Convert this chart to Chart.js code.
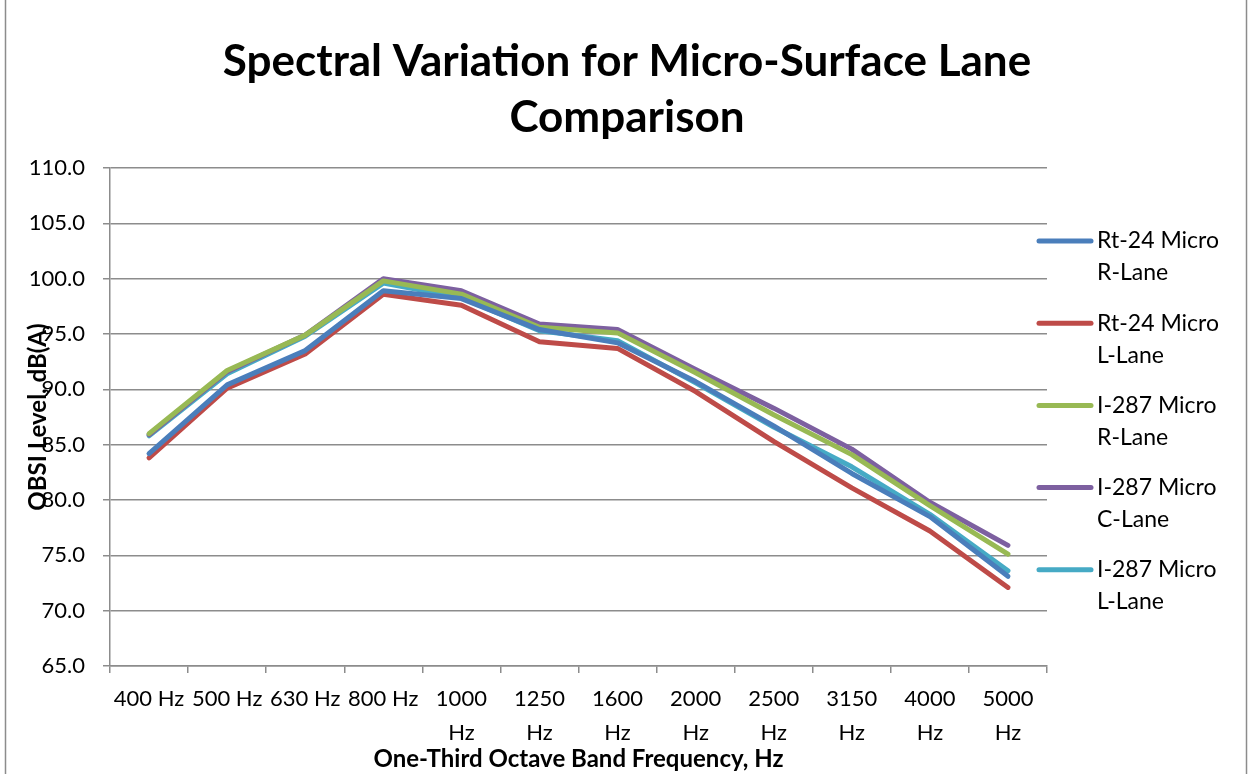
<!DOCTYPE html>
<html>
<head>
<meta charset="utf-8">
<script src="https://cdn.jsdelivr.net/npm/chart.js@4.4.0/dist/chart.umd.min.js"></script>
<style>
    html, body { margin: 0; padding: 0; background: #fff; }
    #wrap { width: 1249px; height: 774px; position: relative; }
</style>
</head>
<body>
<div id="wrap"><canvas id="spectrumChart" width="1249" height="774"></canvas></div>
<script>
// band labels (multi-line where the original wraps)
const bands = ['400 Hz', '500 Hz', '630 Hz', '800 Hz', ['1000', 'Hz'], ['1250', 'Hz'], ['1600', 'Hz'],
    ['2000', 'Hz'], ['2500', 'Hz'], ['3150', 'Hz'], ['4000', 'Hz'], ['5000', 'Hz']];

const rt24R  = [84.2, 90.4, 93.5, 98.9, 98.2, 95.4, 94.2, 90.7, 86.7, 82.4, 78.5, 73.1];
const rt24L  = [83.8, 90.1, 93.2, 98.6, 97.6, 94.3, 93.7, 89.8, 85.3, 81.1, 77.2, 72.1];
const i287R  = [86.0, 91.7, 94.9, 99.8, 98.6, 95.6, 95.1, 91.5, 87.7, 84.1, 79.5, 75.1];
const i287C  = [85.9, 91.6, 94.9, 100.0, 98.9, 95.9, 95.4, 91.8, 88.3, 84.6, 79.8, 75.9];
const i287L  = [85.8, 91.4, 94.8, 99.6, 98.3, 95.3, 94.4, 90.6, 86.6, 83.0, 78.7, 73.6];

const seriesNames = [['Rt-24 Micro', 'R-Lane'], ['Rt-24 Micro', 'L-Lane'], ['I-287 Micro', 'R-Lane'],
    ['I-287 Micro', 'C-Lane'], ['I-287 Micro', 'L-Lane']];

const titleLines = ['Spectral Variation for Micro-Surface Lane', 'Comparison'];

const yMin = 65, yMax = 110, yStep = 5;

const FONT = 'Lato, "Open Sans", sans-serif';

function line(name, data, color) {
    return {
        label: name,
        data: data,
        borderColor: color,
        backgroundColor: color,
        borderWidth: 5,
        pointRadius: 0,
        tension: 0,
        borderCapStyle: 'round',
        borderJoinStyle: 'round'
    };
}

// outer frame like the spreadsheet chart area
const framePlugin = {
    id: 'frame',
    beforeDraw(chart) {
        const c = chart.ctx;
        c.save();
        c.fillStyle = '#fff';
        c.fillRect(0, 0, chart.width, chart.height);
        c.strokeStyle = '#8c8c8c';
        c.lineWidth = 1.5;
        c.strokeRect(5.5, -2, chart.width - 8, chart.height + 4);
        c.restore();
    }
};

// title centred on the whole canvas, not on the plot box
const bigTitle = {
    id: 'bigTitle',
    afterDraw(chart) {
        const c = chart.ctx;
        c.save();
        c.font = 'bold 44px ' + FONT;
        c.textAlign = 'center';
        c.textBaseline = 'middle';
        c.fillStyle = '#000';
        titleLines.forEach((t, k) => c.fillText(t, 627, 62 + k * 56));
        c.restore();
    }
};

// legend drawn by hand so the names can wrap on two lines
const sideLegend = {
    id: 'sideLegend',
    afterDraw(chart) {
        const c = chart.ctx;
        c.save();
        c.font = '23px ' + FONT;
        c.textBaseline = 'middle';
        c.fillStyle = '#000';
        chart.data.datasets.forEach((ds, i) => {
            const y = 241 + i * 82.2;
            c.strokeStyle = ds.borderColor;
            c.lineWidth = 5;
            c.lineCap = 'round';
            c.beginPath();
            c.moveTo(1039, y);
            c.lineTo(1091, y);
            c.stroke();
            seriesNames[i].forEach((t, k) => c.fillText(t, 1097, y + k * 32));
        });
        c.restore();
    }
};

const ctx = document.getElementById('spectrumChart').getContext('2d');
const spectrumChart = new Chart(ctx, {
    type: 'line',
    data: {
        labels: bands,
        datasets: [
            line('Rt-24 Micro R-Lane', rt24R, '#4a7ebb'),
            line('Rt-24 Micro L-Lane', rt24L, '#be4b48'),
            line('I-287 Micro R-Lane', i287R, '#98b954'),
            line('I-287 Micro C-Lane', i287C, '#7d60a0'),
            line('I-287 Micro L-Lane', i287L, '#46aac5')
        ]
    },
    options: {
        responsive: false,
        animation: false,
        layout: { padding: { left: 0, right: 202, top: 168, bottom: 0 } },
        plugins: {
            legend: { display: false },
            tooltip: { enabled: false },
            title: { display: false }
        },
        scales: {
            x: {
                offset: true,
                grid: {
                    display: true,
                    offset: true,
                    drawOnChartArea: false,
                    drawTicks: true,
                    tickLength: 7,
                    color: '#8c8c8c',
                    lineWidth: 1.5
                },
                border: { color: '#8c8c8c', width: 1.5 },
                ticks: {
                    color: '#000',
                    maxRotation: 0,
                    autoSkip: false,
                    padding: 9,
                    font: { family: FONT, size: 22, lineHeight: 1.55 }
                },
                title: {
                    display: true,
                    text: 'One-Third Octave Band Frequency, Hz',
                    color: '#000',
                    font: { family: FONT, size: 24, weight: 'bold', lineHeight: 1.2 },
                    padding: { top: 0, bottom: 0 }
                },
                afterFit(scale) { scale.height = 108; }
            },
            y: {
                min: yMin,
                max: yMax,
                ticks: {
                    stepSize: yStep,
                    color: '#000',
                    padding: 18,
                    font: { family: FONT, size: 22 },
                    callback: v => v.toFixed(1)
                },
                grid: {
                    color: '#8c8c8c',
                    lineWidth: 1.5,
                    tickLength: 7
                },
                border: { color: '#8c8c8c', width: 1.5 },
                title: {
                    display: true,
                    text: 'OBSI Level, dB(A)',
                    color: '#000',
                    font: { family: FONT, size: 24, weight: 'bold', lineHeight: 1.2 },
                    padding: { top: 24, bottom: 0 }
                },
                afterFit(scale) { scale.width = 110; }
            }
        }
    },
    plugins: [framePlugin, bigTitle, sideLegend]
});
</script>
</body>
</html>
